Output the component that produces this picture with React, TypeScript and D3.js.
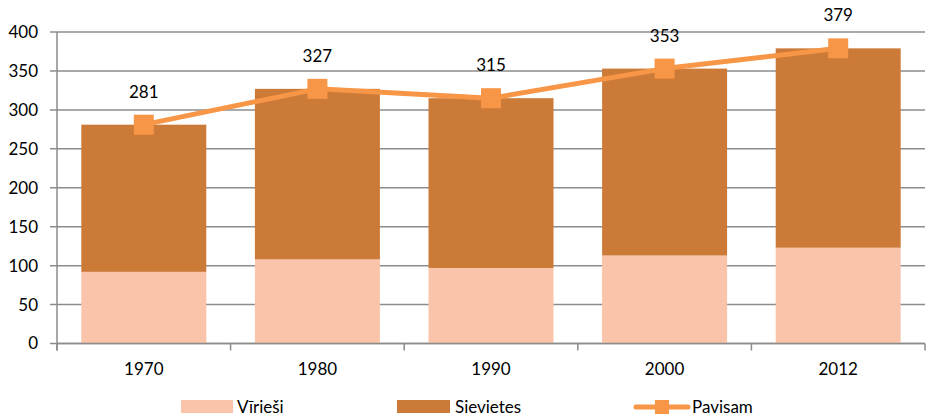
import React from 'react';
import * as d3 from 'd3';

const years = ['1970', '1980', '1990', '2000', '2012'];
const men = [92, 108, 97, 113, 123];
const total = [281, 327, 315, 353, 379];
const women = total.map((t, i) => t - men[i]);
const yTicks = [0, 50, 100, 150, 200, 250, 300, 350, 400];

const W = 935;
const H = 419;
const margin = { top: 32, right: 10, bottom: 76, left: 57 };
const FONT = 'Lato, "Open Sans", sans-serif';

const LIGHT = '#F9C4A9';
const DARK = '#CC7A38';
const LINE = '#F79646';
const GRID = '#8C8C8C';

export default function App() {
  const x = d3
    .scaleBand<string>()
    .domain(years)
    .range([margin.left, W - margin.right])
    .paddingInner(0.28)
    .paddingOuter(0.14);
  const y = d3
    .scaleLinear()
    .domain([0, 400])
    .range([H - margin.bottom + 0.5, margin.top]);

  const step = x.step();
  const cx = (yr: string) => (x(yr) as number) + x.bandwidth() / 2;

  const line = d3
    .line<number>()
    .x((_, i) => cx(years[i]))
    .y((d) => y(d));

  // category boundaries for x-axis tick marks
  const bounds = d3.range(years.length + 1).map((i) => margin.left + i * step);

  return (
    <svg
      width={W}
      height={H}
      style={{ position: 'absolute', left: 0, top: 0, background: '#fff' }}
      fontFamily={FONT}
    >
      {/* gridlines + y labels */}
      {yTicks.map((t) => (
        <g key={t}>
          <line x1={margin.left - 7} x2={W - margin.right} y1={y(t)} y2={y(t)} stroke={GRID} strokeWidth={1.5} />
          <text x={38} y={y(t)} dy="0.35em" textAnchor="end" fontSize={17} fill="#000">
            {t}
          </text>
        </g>
      ))}
      {/* y axis line */}
      <line x1={margin.left} x2={margin.left} y1={margin.top} y2={y(0) + 7} stroke={GRID} strokeWidth={1.5} />

      {/* bars */}
      {years.map((yr, i) => (
        <g key={yr}>
          <rect x={x(yr)} width={x.bandwidth()} y={y(men[i])} height={y(0) - y(men[i])} fill={LIGHT} />
          <rect
            x={x(yr)}
            width={x.bandwidth()}
            y={y(men[i] + women[i])}
            height={y(men[i]) - y(men[i] + women[i])}
            fill={DARK}
          />
        </g>
      ))}

      {/* x axis */}
      <line x1={margin.left} x2={W - margin.right} y1={y(0)} y2={y(0)} stroke={GRID} strokeWidth={1.5} />
      {bounds.map((b, i) => (
        <line key={i} x1={b} x2={b} y1={y(0)} y2={y(0) + 7} stroke={GRID} strokeWidth={1.5} />
      ))}
      {years.map((yr) => (
        <text key={yr} x={cx(yr)} y={369} dy="0.35em" textAnchor="middle" fontSize={17} fill="#000">
          {yr}
        </text>
      ))}

      {/* total line */}
      <path d={line(total) || ''} fill="none" stroke={LINE} strokeWidth={5} strokeLinejoin="round" />
      {total.map((v, i) => (
        <g key={i}>
          <rect x={cx(years[i]) - 10} y={y(v) - 10} width={20} height={20} fill={LINE} />
          <text x={cx(years[i])} y={y(v) - 33} dy="0.35em" textAnchor="middle" fontSize={17} fill="#000">
            {v}
          </text>
        </g>
      ))}

      {/* legend */}
      <g fontSize={17} fill="#000">
        <rect x={181} y={400} width={52} height={13} fill={LIGHT} />
        <text x={237} y={407} dy="0.35em">Vīrieši</text>
        <rect x={397} y={400} width={53} height={13} fill={DARK} />
        <text x={455} y={407} dy="0.35em">Sievietes</text>
        <line x1={636} x2={688} y1={407} y2={407} stroke={LINE} strokeWidth={5} strokeLinecap="round" />
        <rect x={655} y={400} width={14} height={14} fill={LINE} />
        <text x={692} y={407} dy="0.35em">Pavisam</text>
      </g>
    </svg>
  );
}
